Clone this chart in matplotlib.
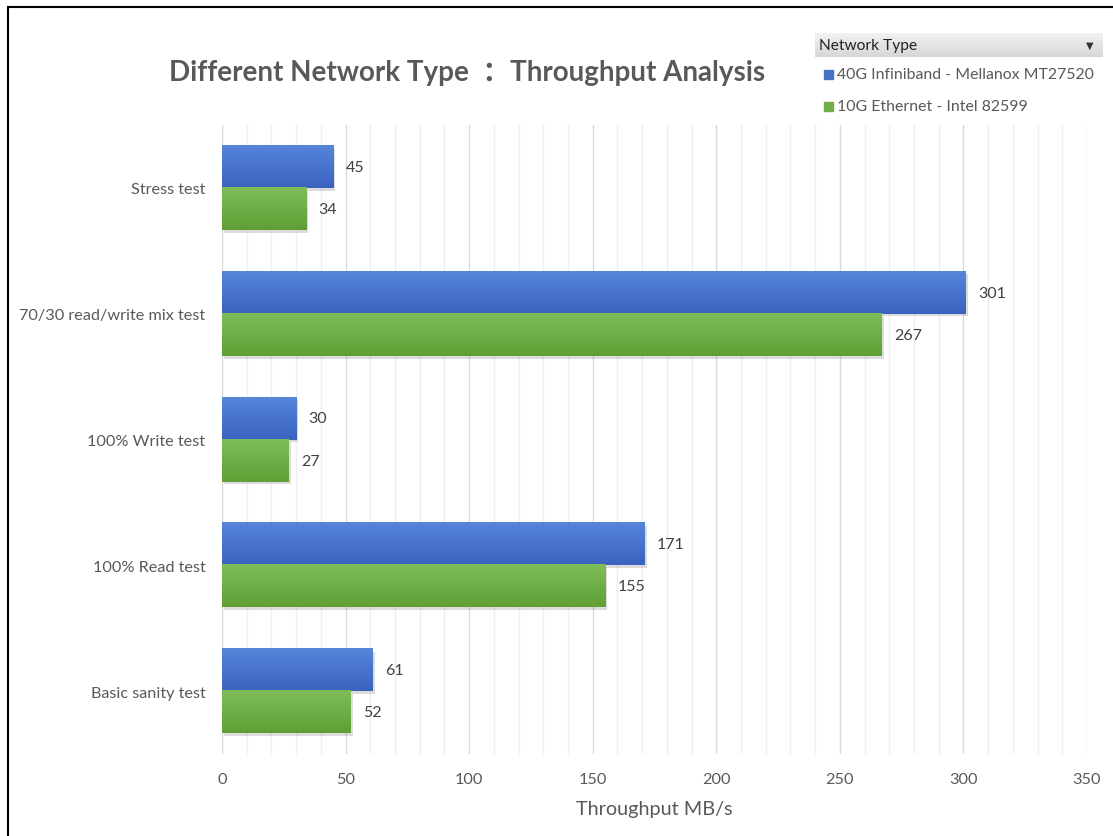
import numpy as np
import matplotlib
matplotlib.use('Agg')
import matplotlib.pyplot as plt
from matplotlib.patches import Rectangle
from matplotlib.colors import LinearSegmentedColormap
import matplotlib.patheffects as pe

plt.rcParams['font.family'] = ['Lato', 'Noto Sans CJK SC', 'DejaVu Sans']

# data (top to bottom as shown)
categories = ['Stress test', '70/30 read/write mix test', '100% Write test',
              '100% Read test', 'Basic sanity test']
infiniband = [45, 301, 30, 171, 61]
ethernet = [34, 267, 27, 155, 52]
series_names = ['40G Infiniband - Mellanox MT27520', '10G Ethernet - Intel 82599']

C_BLUE = '#4472c4'
C_GREEN = '#70ad47'
C_TEXT = '#595959'

W, H = 1113, 837
fig = plt.figure(figsize=(W / 100, H / 100), dpi=100)
ax = fig.add_axes([222 / W, 1 - 755 / H, 865 / W, 629 / H])

y = np.arange(len(categories))
h = 0.335

grad_blue = LinearSegmentedColormap.from_list('gb', ['#5685da', '#3a63c0'])
grad_green = LinearSegmentedColormap.from_list('gg', ['#7fbd5a', '#5f9f35'])
g = np.linspace(0, 1, 64).reshape(-1, 1)

shadow = [pe.SimplePatchShadow(offset=(1.5, -2), shadow_rgbFace='#777777', alpha=0.25), pe.Normal()]

for vals, off, col, cmap in [(infiniband, -h / 2, C_BLUE, grad_blue),
                             (ethernet, h / 2, C_GREEN, grad_green)]:
    bars = ax.barh(y + off, vals, height=h, color=col, zorder=2)
    for b in bars:
        b.set_path_effects(shadow)
    for yi, v in zip(y + off, vals):
        ax.imshow(g, cmap=cmap, aspect='auto', origin='upper', zorder=3,
                  extent=(0, v, yi + h / 2, yi - h / 2), interpolation='bilinear')
        ax.text(v + 5, yi, f'{v}', va='center', ha='left', fontsize=11.5,
                color='#404040', zorder=4)

ax.set_xlim(0, 350)
ax.set_ylim(len(categories) - 0.5, -0.5)
ax.set_xticks(np.arange(0, 351, 50))
ax.set_xticks(np.arange(0, 351, 10), minor=True)
ax.set_yticks(y)
ax.set_yticklabels(categories)
ax.grid(axis='x', which='major', color='#d9d9d9', linewidth=1, zorder=0)
ax.grid(axis='x', which='minor', color='#efefef', linewidth=1, zorder=0)
ax.set_axisbelow(True)
for s in ax.spines.values():
    s.set_visible(False)
ax.tick_params(axis='both', which='both', length=0, colors=C_TEXT, labelsize=11.7)
ax.tick_params(axis='x', pad=13)
ax.tick_params(axis='y', pad=12)
ax.set_xlabel('Throughput MB/s', fontsize=14.3, color=C_TEXT, labelpad=10)

fig.text(467 / W, 1 - 73 / H, 'Different Network Type  ：Throughput Analysis',
         ha='center', va='center', fontsize=20, fontweight='bold', color=C_TEXT)

# legend box (Excel pivot style)
hdr = fig.add_axes([815 / W, 1 - 58 / H, 288 / W, 24 / H])
hdr.imshow(g, cmap=LinearSegmentedColormap.from_list('gh', ['#f2f2f2', '#d6d6d6']),
           aspect='auto', extent=(0, 1, 0, 1))
hdr.set_axis_off()
fig.text(819 / W, 1 - 46 / H, 'Network Type', ha='left', va='center',
         fontsize=11.2, color='#222222')
fig.text(1090 / W, 1 - 46 / H, '▼', ha='center', va='center', fontsize=7,
         color='#333333', family='DejaVu Sans')
for name, col, yy in zip(series_names, [C_BLUE, C_GREEN], [75, 107]):
    fig.patches.append(Rectangle((824 / W, 1 - (yy + 4.5) / H), 9 / W, 9 / H,
                                 transform=fig.transFigure, color=col))
    fig.text(837 / W, 1 - yy / H, name, ha='left', va='center',
             fontsize=11.4, color=C_TEXT)

# outer border
fig.patches.append(Rectangle((8 / W, -0.1), 1.2, 1 - 8 / H + 0.1,
                             transform=fig.transFigure, fill=False,
                             edgecolor='black', linewidth=1.5))

fig.savefig('out.png', dpi=100)
